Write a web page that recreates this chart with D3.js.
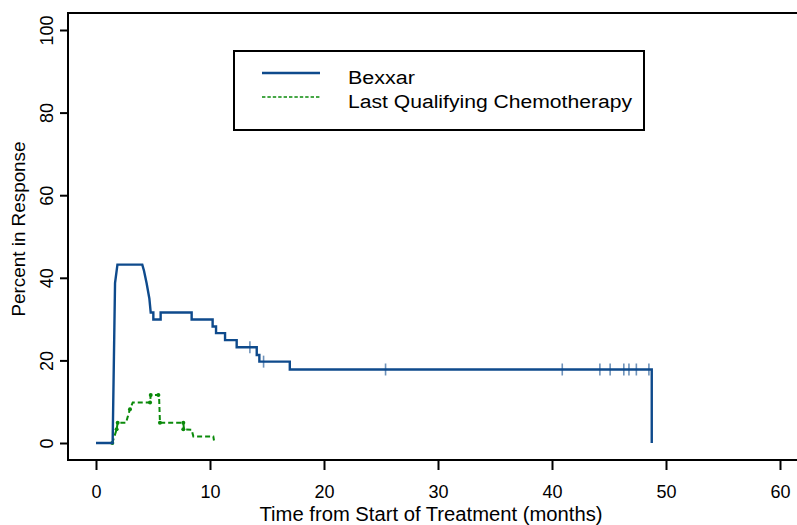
<!DOCTYPE html>
<html>
<head>
<meta charset="utf-8">
<script src="https://cdn.jsdelivr.net/npm/d3@7"></script>
<style>
  body { margin: 0; background: #fff; }
  svg { display: block; font-family: "Liberation Sans", Arial, sans-serif; }
</style>
</head>
<body>
<div id="chart"></div>
<script>
// Bexxar response curve: [months, percent]
const bexxarCurve = [
  [0, 0], [1.46, 0], [1.67, 38.7], [1.88, 43.2], [4.06, 43.2], [4.21, 41.7],
  [4.44, 38.7], [4.68, 35.0], [4.80, 31.6], [5.03, 31.6], [5.03, 29.9],
  [5.67, 29.9], [5.67, 31.6], [8.39, 31.6], [8.39, 29.9], [10.23, 29.9],
  [10.23, 28.2], [10.53, 28.2], [10.53, 26.6], [11.32, 26.6], [11.32, 24.9],
  [12.34, 24.9], [12.34, 23.2], [14.1, 23.2], [14.1, 21.3], [14.33, 21.3],
  [14.33, 19.7], [17.0, 19.7], [17.0, 17.8], [48.75, 17.8], [48.75, 0]
];
// censored observations on the Bexxar curve
const bexxarCensored = [
  [13.5, 23.2], [14.7, 19.7], [25.4, 17.8], [40.9, 17.8], [44.2, 17.8],
  [45.1, 17.8], [46.3, 17.8], [46.75, 17.8], [47.4, 17.8], [48.5, 17.8]
];
// Last qualifying chemotherapy curve
const chemoCurve = [
  [0, 0], [1.43, 0], [1.81, 3.3], [1.9, 4.9], [2.63, 4.9], [2.8, 6.5],
  [2.98, 8.2], [3.22, 9.8], [4.74, 9.8], [4.8, 11.6], [5.53, 11.6],
  [5.61, 4.9], [7.66, 4.9], [7.72, 3.3], [8.39, 3.2], [8.54, 1.6],
  [10.29, 1.6], [10.35, 0.6]
];
const chemoDots = [
  [1.43, 0], [1.81, 3.3], [1.9, 4.9], [2.98, 8.2], [4.74, 9.8], [4.8, 11.6],
  [5.47, 11.6], [5.61, 4.9], [7.66, 4.9], [7.66, 3.3]
];

const xTicks = [0, 10, 20, 30, 40, 50, 60];
const yTicks = [0, 20, 40, 60, 80, 100];
const seriesNames = ["Bexxar", "Last Qualifying Chemotherapy"];

const W = 797, H = 525;
const blue = "#0e4a8c", green = "#0a8a0a";

const svg = d3.select("#chart").append("svg")
  .attr("width", W).attr("height", H);

const x = d3.scaleLinear().domain([0, 60]).range([96, 780]);
const y = d3.scaleLinear().domain([0, 100]).range([443, 30]);

// plot frame
const frameLeft = 68, frameTop = 13, frameBottom = 460;
svg.append("path")
  .attr("d", `M${W + 10},${frameTop}H${frameLeft}V${frameBottom}H${W + 10}`)
  .attr("fill", "none").attr("stroke", "#000").attr("stroke-width", 2);

// x axis
const xAxis = d3.axisBottom(x).tickValues(xTicks).tickSize(10).tickPadding(15)
  .tickSizeOuter(0);
const gx = svg.append("g").attr("transform", `translate(0,${frameBottom})`).call(xAxis);
gx.select(".domain").remove();
gx.selectAll(".tick line").attr("stroke", "#000").attr("stroke-width", 2);
gx.selectAll(".tick text").attr("font-size", 18).attr("fill", "#000")
  .attr("font-family", "Liberation Sans, Arial, sans-serif");

// y axis
const yAxis = d3.axisLeft(y).tickValues(yTicks).tickSize(8).tickSizeOuter(0);
const gy = svg.append("g").attr("transform", `translate(${frameLeft},0)`).call(yAxis);
gy.select(".domain").remove();
gy.selectAll(".tick line").attr("stroke", "#000").attr("stroke-width", 2);
gy.selectAll(".tick text")
  .attr("font-size", 18).attr("fill", "#000")
  .attr("font-family", "Liberation Sans, Arial, sans-serif")
  .attr("x", null)
  .attr("text-anchor", "middle")
  .attr("transform", "translate(-15,0) rotate(-90)")
  .attr("dy", "0");

// axis titles
svg.append("text")
  .attr("x", 431).attr("y", 521)
  .attr("text-anchor", "middle").attr("font-size", 19.5)
  .attr("textLength", 343).attr("lengthAdjust", "spacingAndGlyphs")
  .text("Time from Start of Treatment (months)");
svg.append("text")
  .attr("transform", "translate(25,229) rotate(-90)")
  .attr("text-anchor", "middle").attr("font-size", 18.5)
  .attr("textLength", 175).attr("lengthAdjust", "spacingAndGlyphs")
  .text("Percent in Response");

const line = d3.line().x(d => x(d[0])).y(d => y(d[1]));

// chemo curve
svg.append("path").datum(chemoCurve)
  .attr("d", line).attr("fill", "none")
  .attr("stroke", green).attr("stroke-width", 2)
  .attr("stroke-dasharray", "5,3");
svg.selectAll("circle.chemo").data(chemoDots).enter().append("circle")
  .attr("class", "chemo")
  .attr("cx", d => x(d[0])).attr("cy", d => y(d[1])).attr("r", 2)
  .attr("fill", green);

// bexxar curve
svg.append("path").datum(bexxarCurve)
  .attr("d", line).attr("fill", "none")
  .attr("stroke", blue).attr("stroke-width", 2.4)
  .attr("stroke-linejoin", "miter");
svg.selectAll("line.cens").data(bexxarCensored).enter().append("line")
  .attr("class", "cens")
  .attr("x1", d => x(d[0])).attr("x2", d => x(d[0]))
  .attr("y1", d => y(d[1]) - 6).attr("y2", d => y(d[1]) + 6)
  .attr("stroke", blue).attr("stroke-opacity", 0.6).attr("stroke-width", 1.6);

// legend
const lg = svg.append("g");
lg.append("rect").attr("x", 234).attr("y", 51).attr("width", 410).attr("height", 79)
  .attr("fill", "#fff").attr("stroke", "#000").attr("stroke-width", 2);
const legendRows = [
  { name: seriesNames[0], color: blue, dash: null, w: 2.4, len: 67 },
  { name: seriesNames[1], color: green, dash: "3.4,2", w: 1.6, len: 284 }
];
legendRows.forEach((r, i) => {
  const yy = 73 + i * 24;
  lg.append("line").attr("x1", 262).attr("x2", 320).attr("y1", yy).attr("y2", yy)
    .attr("stroke", r.color).attr("stroke-width", r.w)
    .attr("stroke-dasharray", r.dash);
  lg.append("text").attr("x", 348).attr("y", yy + 10.5)
    .attr("font-size", 18).attr("fill", "#000")
    .attr("textLength", r.len).attr("lengthAdjust", "spacingAndGlyphs")
    .text(r.name);
});
</script>
</body>
</html>
